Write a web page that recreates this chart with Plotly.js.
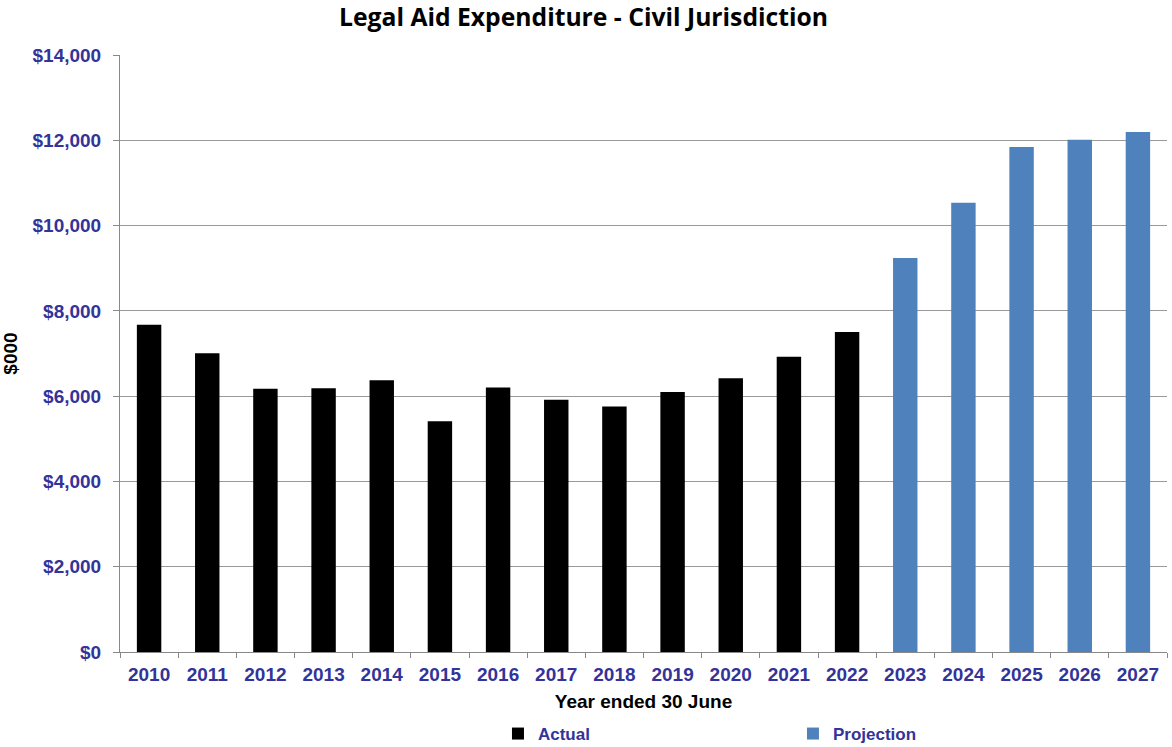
<!DOCTYPE html>
<html>
<head>
<meta charset="utf-8">
<script src="https://cdn.plot.ly/plotly-3.0.1.min.js"></script>
<style>html,body{margin:0;padding:0;background:#fff;}#chart{width:1172px;height:747px;}</style>
</head>
<body>
<div id="chart"></div>
<script>
const actualYears = ["2010","2011","2012","2013","2014","2015","2016","2017","2018","2019","2020","2021","2022"];
const actualValues = [7675, 7005, 6175, 6183, 6370, 5410, 6200, 5918, 5755, 6098, 6418, 6926, 7505];
const projectionYears = ["2023","2024","2025","2026","2027"];
const projectionValues = [9240, 10537, 11843, 12015, 12195];
const yTickValues = [0, 2000, 4000, 6000, 8000, 10000, 12000, 14000];
const yTickLabels = ["$0","$2,000","$4,000","$6,000","$8,000","$10,000","$12,000","$14,000"];

const labelColor = "#333399";
const tickFont = {family: "Liberation Sans, Arial, sans-serif", size: 19, color: labelColor, weight: "bold"};

const data = [
  {type: "bar", name: "Actual", x: actualYears, y: actualValues, width: 0.42,
   marker: {color: "#000000", line: {width: 0}}, hoverinfo: "x+y"},
  {type: "bar", name: "Projection", x: projectionYears, y: projectionValues, width: 0.42,
   marker: {color: "#4F81BD", line: {width: 0}}, hoverinfo: "x+y"}
];

const layout = {
  width: 1172, height: 747,
  margin: {l: 120, r: 5, t: 55, b: 95, autoexpand: false},
  paper_bgcolor: "#ffffff", plot_bgcolor: "#ffffff",
  barmode: "overlay",
  title: {text: "<b>Legal Aid Expenditure - Civil Jurisdiction</b>",
          font: {family: "Open Sans, sans-serif", size: 24.7, color: "#000000"},
          x: 0.4979, xanchor: "center", y: 0.977, yanchor: "middle"},
  xaxis: {
    type: "category",
    categoryorder: "array",
    categoryarray: actualYears.concat(projectionYears),
    tickson: "boundaries",
    ticks: "outside", ticklen: 5, tickcolor: "#888888",
    showline: true, linecolor: "#888888", linewidth: 1,
    showgrid: false,
    tickfont: tickFont,
    ticklabelstandoff: 5,
    automargin: false,
    title: {text: "<b>Year ended 30 June</b>", standoff: 10,
            font: {family: "Liberation Sans, Arial, sans-serif", size: 19, color: "#000000"}}
  },
  yaxis: {
    range: [0, 14000],
    tickvals: yTickValues, ticktext: yTickLabels,
    ticks: "outside", ticklen: 6, tickcolor: "#888888",
    showline: true, linecolor: "#888888", linewidth: 1,
    showgrid: true, gridcolor: "#999999", gridwidth: 1,
    zeroline: false,
    tickfont: tickFont,
    ticklabelstandoff: 8,
    automargin: false,
    title: {text: "<b>$000</b>", standoff: 12,
            font: {family: "Liberation Sans, Arial, sans-serif", size: 19, color: "#000000"}}
  },
  showlegend: true,
  legend: {orientation: "h", x: 0.361, xanchor: "left", xref: "paper",
           y: 0.0174, yref: "container", yanchor: "middle",
           entrywidth: 250, entrywidthmode: "pixels", itemwidth: 30,
           font: {family: "Liberation Sans, Arial, sans-serif", size: 17, color: labelColor, weight: "bold"},
           bgcolor: "rgba(0,0,0,0)"}
};

Plotly.newPlot("chart", data, layout, {displayModeBar: false, responsive: false});
</script>
</body>
</html>
